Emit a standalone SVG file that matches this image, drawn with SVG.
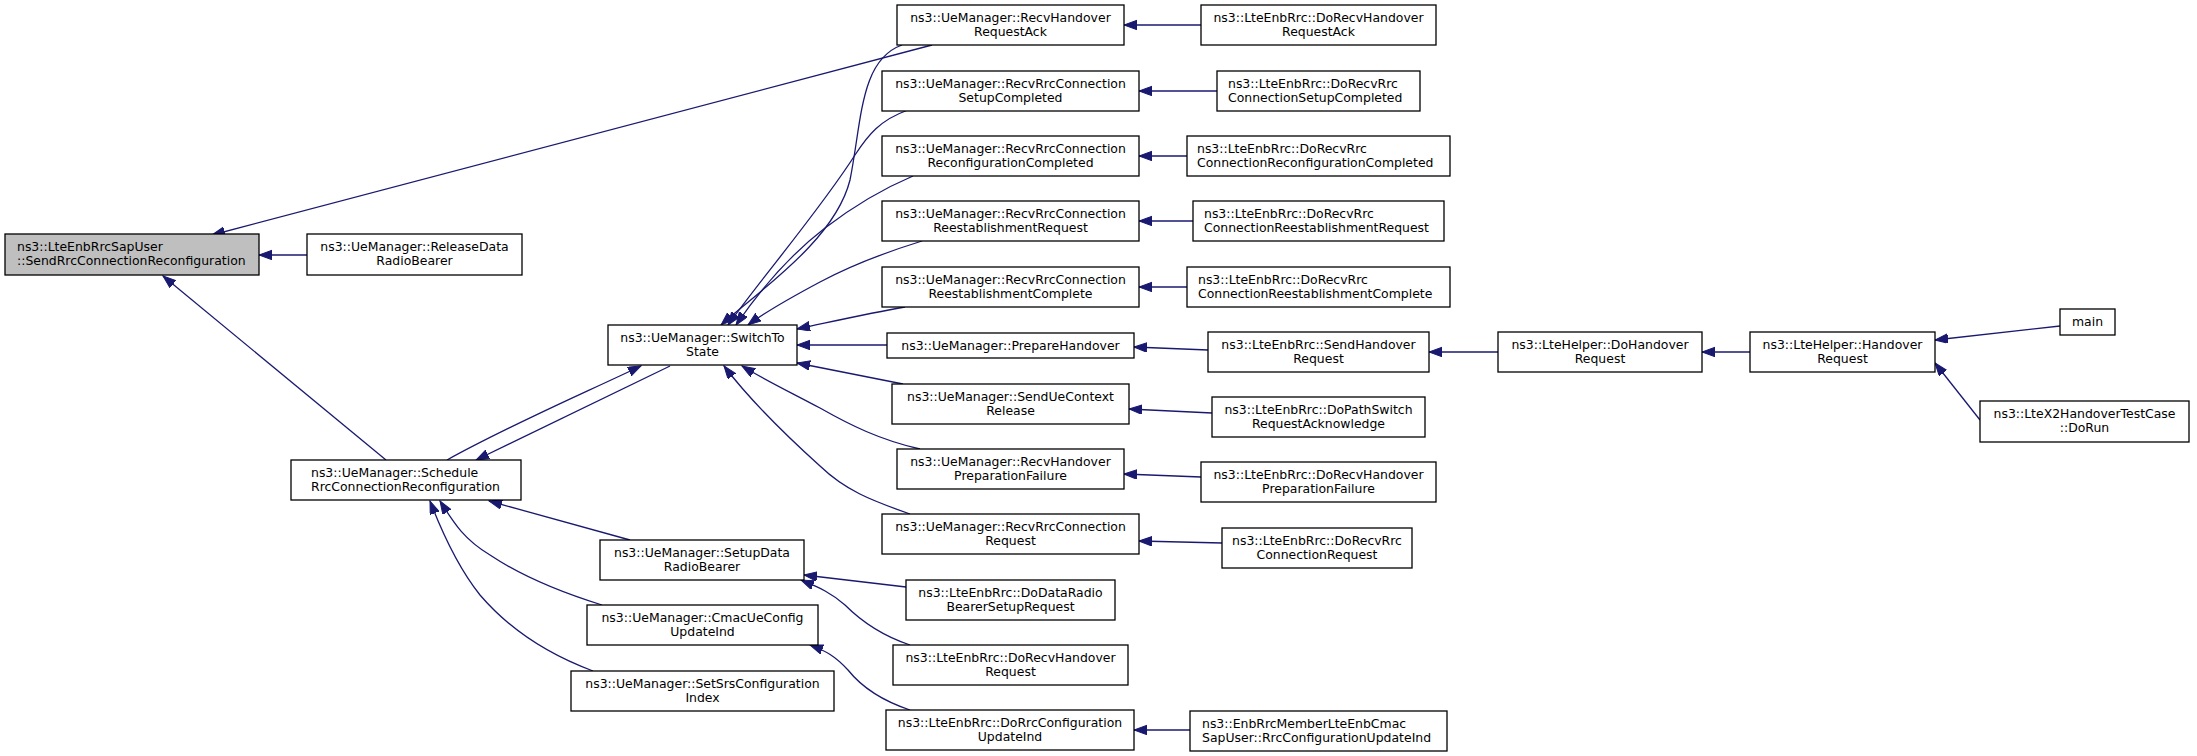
<svg xmlns="http://www.w3.org/2000/svg" width="2197" height="756" viewBox="0 0 2197 756">
<style>
.node rect{fill:#fff;stroke:#000;stroke-width:1.3}
.root rect{fill:#bfbfbf}
text{font-family:"DejaVu Sans","Liberation Sans",sans-serif;font-size:12.45px;fill:#000}
.c{text-anchor:middle}
.edge path{fill:none;stroke:#191970;stroke-width:1.3;marker-end:url(#ah)}
</style>
<defs>
<marker id="ah" markerUnits="userSpaceOnUse" markerWidth="14" markerHeight="11" refX="13" refY="4.75" orient="auto">
<polygon points="0,0 13,4.75 0,9.5" fill="#191970" stroke="#191970" stroke-width="1"/>
</marker>
</defs>
<rect width="2197" height="756" fill="#fff"/>
<g id="edges" class="edge">
<path d="M932,45 L212,235"/>
<path d="M307,255 L259,255"/>
<path d="M386,460 L163,276"/>
<path d="M447,460 C510,425 580,395 641,366"/>
<path d="M670,366 L476,460"/>
<path d="M902,45 C860,60 862,120 850,180 C835,240 760,290 721,325"/>
<path d="M908,110 C880,120 868,135 855,155 C820,210 760,280 728,325"/>
<path d="M913,176 C880,190 855,205 825,228 C790,255 760,290 736,325"/>
<path d="M922,241 C880,254 850,266 820,282 C790,298 768,310 748,325"/>
<path d="M905,307 C870,313 835,321 797,329"/>
<path d="M887,345 L797,345"/>
<path d="M903,384 L797,363"/>
<path d="M920,449 C880,440 850,425 820,408 C790,392 765,380 742,366"/>
<path d="M910,514 C870,500 845,490 820,466 C780,430 750,400 724,366"/>
<path d="M1201,25 L1124,25"/>
<path d="M1217,91 L1139,91"/>
<path d="M1187,156 L1139,156"/>
<path d="M1193,221 L1139,221"/>
<path d="M1187,287 L1139,287"/>
<path d="M1208,350 L1134,347"/>
<path d="M1212,413 L1129,409"/>
<path d="M1201,477 L1124,474"/>
<path d="M1222,543 L1139,541"/>
<path d="M1190,730 L1134,730"/>
<path d="M906,587 L804,575"/>
<path d="M910,645 C880,635 860,620 845,605 C830,592 820,588 801,580"/>
<path d="M910,710 C880,700 860,685 848,670 C835,656 826,651 810,645"/>
<path d="M630,540 L489,501"/>
<path d="M602,605 C560,592 520,575 490,555 C465,540 455,525 440,501"/>
<path d="M593,671 C550,655 510,630 480,595 C460,570 445,540 430,501"/>
<path d="M1498,352 L1429,352"/>
<path d="M1750,352 L1702,352"/>
<path d="M2060,326 L1935,340"/>
<path d="M1980,420 L1935,363"/>
</g>
<g id="n0" class="node root"><rect x="5" y="234" width="254" height="41"/><text x="17" y="251">ns3::LteEnbRrcSapUser</text><text x="17" y="265">::SendRrcConnectionReconfiguration</text></g>
<g id="n1" class="node"><rect x="307" y="234" width="215" height="41"/><text class="c" x="414.5" y="251">ns3::UeManager::ReleaseData</text><text class="c" x="414.5" y="265">RadioBearer</text></g>
<g id="n2" class="node"><rect x="291" y="460" width="230" height="40"/><text x="311" y="477">ns3::UeManager::Schedule</text><text x="311" y="491">RrcConnectionReconfiguration</text></g>
<g id="n3" class="node"><rect x="608" y="325" width="189" height="40"/><text class="c" x="702.5" y="342">ns3::UeManager::SwitchTo</text><text class="c" x="702.5" y="356">State</text></g>
<g id="n4" class="node"><rect x="600" y="540" width="204" height="40"/><text class="c" x="702" y="557">ns3::UeManager::SetupData</text><text class="c" x="702" y="571">RadioBearer</text></g>
<g id="n5" class="node"><rect x="587" y="605" width="231" height="40"/><text class="c" x="702.5" y="622">ns3::UeManager::CmacUeConfig</text><text class="c" x="702.5" y="636">UpdateInd</text></g>
<g id="n6" class="node"><rect x="571" y="671" width="263" height="40"/><text class="c" x="702.5" y="688">ns3::UeManager::SetSrsConfiguration</text><text class="c" x="702.5" y="702">Index</text></g>
<g id="n7" class="node"><rect x="897" y="5" width="227" height="40"/><text class="c" x="1010.5" y="22">ns3::UeManager::RecvHandover</text><text class="c" x="1010.5" y="36">RequestAck</text></g>
<g id="n8" class="node"><rect x="882" y="71" width="257" height="40"/><text class="c" x="1010.5" y="88">ns3::UeManager::RecvRrcConnection</text><text class="c" x="1010.5" y="102">SetupCompleted</text></g>
<g id="n9" class="node"><rect x="882" y="136" width="257" height="40"/><text class="c" x="1010.5" y="153">ns3::UeManager::RecvRrcConnection</text><text class="c" x="1010.5" y="167">ReconfigurationCompleted</text></g>
<g id="n10" class="node"><rect x="882" y="201" width="257" height="40"/><text class="c" x="1010.5" y="218">ns3::UeManager::RecvRrcConnection</text><text class="c" x="1010.5" y="232">ReestablishmentRequest</text></g>
<g id="n11" class="node"><rect x="882" y="267" width="257" height="40"/><text class="c" x="1010.5" y="284">ns3::UeManager::RecvRrcConnection</text><text class="c" x="1010.5" y="298">ReestablishmentComplete</text></g>
<g id="n12" class="node"><rect x="887" y="333" width="247" height="25"/><text class="c" x="1010.5" y="350">ns3::UeManager::PrepareHandover</text></g>
<g id="n13" class="node"><rect x="892" y="384" width="237" height="40"/><text class="c" x="1010.5" y="401">ns3::UeManager::SendUeContext</text><text class="c" x="1010.5" y="415">Release</text></g>
<g id="n14" class="node"><rect x="897" y="449" width="227" height="40"/><text class="c" x="1010.5" y="466">ns3::UeManager::RecvHandover</text><text class="c" x="1010.5" y="480">PreparationFailure</text></g>
<g id="n15" class="node"><rect x="882" y="514" width="257" height="40"/><text class="c" x="1010.5" y="531">ns3::UeManager::RecvRrcConnection</text><text class="c" x="1010.5" y="545">Request</text></g>
<g id="n16" class="node"><rect x="906" y="580" width="209" height="40"/><text class="c" x="1010.5" y="597">ns3::LteEnbRrc::DoDataRadio</text><text class="c" x="1010.5" y="611">BearerSetupRequest</text></g>
<g id="n17" class="node"><rect x="893" y="645" width="235" height="40"/><text class="c" x="1010.5" y="662">ns3::LteEnbRrc::DoRecvHandover</text><text class="c" x="1010.5" y="676">Request</text></g>
<g id="n18" class="node"><rect x="886" y="710" width="248" height="40"/><text class="c" x="1010" y="727">ns3::LteEnbRrc::DoRrcConfiguration</text><text class="c" x="1010" y="741">UpdateInd</text></g>
<g id="n19" class="node"><rect x="1201" y="5" width="235" height="40"/><text class="c" x="1318.5" y="22">ns3::LteEnbRrc::DoRecvHandover</text><text class="c" x="1318.5" y="36">RequestAck</text></g>
<g id="n20" class="node"><rect x="1217" y="71" width="203" height="40"/><text x="1228" y="88">ns3::LteEnbRrc::DoRecvRrc</text><text x="1228" y="102">ConnectionSetupCompleted</text></g>
<g id="n21" class="node"><rect x="1187" y="136" width="263" height="40"/><text x="1197" y="153">ns3::LteEnbRrc::DoRecvRrc</text><text x="1197" y="167">ConnectionReconfigurationCompleted</text></g>
<g id="n22" class="node"><rect x="1193" y="201" width="251" height="40"/><text x="1204" y="218">ns3::LteEnbRrc::DoRecvRrc</text><text x="1204" y="232">ConnectionReestablishmentRequest</text></g>
<g id="n23" class="node"><rect x="1187" y="267" width="263" height="40"/><text x="1198" y="284">ns3::LteEnbRrc::DoRecvRrc</text><text x="1198" y="298">ConnectionReestablishmentComplete</text></g>
<g id="n24" class="node"><rect x="1208" y="332" width="221" height="40"/><text class="c" x="1318.5" y="349">ns3::LteEnbRrc::SendHandover</text><text class="c" x="1318.5" y="363">Request</text></g>
<g id="n25" class="node"><rect x="1212" y="397" width="213" height="40"/><text class="c" x="1318.5" y="414">ns3::LteEnbRrc::DoPathSwitch</text><text class="c" x="1318.5" y="428">RequestAcknowledge</text></g>
<g id="n26" class="node"><rect x="1201" y="462" width="235" height="40"/><text class="c" x="1318.5" y="479">ns3::LteEnbRrc::DoRecvHandover</text><text class="c" x="1318.5" y="493">PreparationFailure</text></g>
<g id="n27" class="node"><rect x="1222" y="528" width="190" height="40"/><text class="c" x="1317" y="545">ns3::LteEnbRrc::DoRecvRrc</text><text class="c" x="1317" y="559">ConnectionRequest</text></g>
<g id="n28" class="node"><rect x="1190" y="711" width="257" height="40"/><text x="1202" y="728">ns3::EnbRrcMemberLteEnbCmac</text><text x="1202" y="742">SapUser::RrcConfigurationUpdateInd</text></g>
<g id="n29" class="node"><rect x="1498" y="332" width="204" height="40"/><text class="c" x="1600" y="349">ns3::LteHelper::DoHandover</text><text class="c" x="1600" y="363">Request</text></g>
<g id="n30" class="node"><rect x="1750" y="332" width="185" height="40"/><text class="c" x="1842.5" y="349">ns3::LteHelper::Handover</text><text class="c" x="1842.5" y="363">Request</text></g>
<g id="n31" class="node"><rect x="2060" y="309" width="55" height="26"/><text class="c" x="2087.5" y="326">main</text></g>
<g id="n32" class="node"><rect x="1980" y="401" width="209" height="41"/><text class="c" x="2084.5" y="418">ns3::LteX2HandoverTestCase</text><text class="c" x="2084.5" y="432">::DoRun</text></g>
</svg>
